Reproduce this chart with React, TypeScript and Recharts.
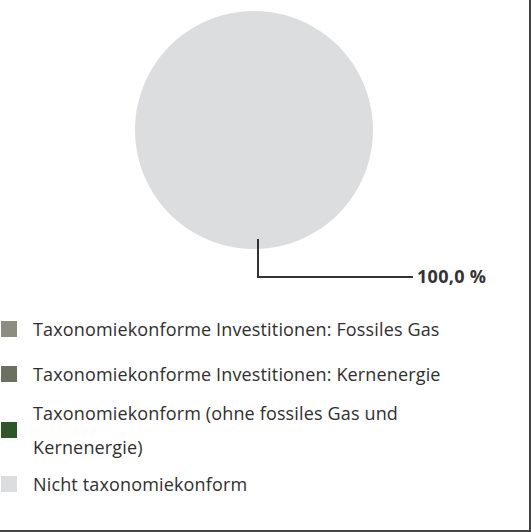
import React from "react";
import { PieChart, Pie, Cell } from "recharts";

const CATEGORIES = [
  "Taxonomiekonforme Investitionen: Fossiles Gas",
  "Taxonomiekonforme Investitionen: Kernenergie",
  "Taxonomiekonform (ohne fossiles Gas und Kernenergie)",
  "Nicht taxonomiekonform",
];
const VALUES = [0, 0, 0, 100];
const COLORS = ["#8c8d80", "#6b7161", "#2e5727", "#dcdddf"];
const LABELS = ["0,0 %", "0,0 %", "0,0 %", "100,0 %"];

const data = CATEGORIES.map((name, i) => ({ name, value: VALUES[i], label: LABELS[i] }));

const FONT = "'Open Sans', 'Noto Sans', sans-serif";
const TEXT = "#2f2f2f";

function renderLabel(props: any) {
  const { cx, cy, outerRadius, index } = props;
  if (VALUES[index] <= 0) return null;
  // leader line from inside the pie down and out to the right
  const x0 = cx + 4;
  const y0 = cy + outerRadius - 10;
  const y1 = cy + outerRadius + 28;
  const x1 = cx + 159;
  return (
    <g key={`lbl-${index}`}>
      <path d={`M${x0},${y0} L${x0},${y1} L${x1},${y1}`} fill="none" stroke="#333" strokeWidth={2} />
      <text x={x1 + 4} y={y1 + 6} fill="#333" fontSize={18} fontWeight={700} fontFamily={FONT} letterSpacing={0.3}>
        {data[index].label}
      </text>
    </g>
  );
}

export default function App() {
  return (
    <div
      style={{
        width: 529,
        height: 530,
        borderRight: "2px solid #444",
        borderBottom: "2px solid #444",
        background: "#fff",
        position: "relative",
        fontFamily: FONT,
      }}
    >
      <style>{`body{margin:0}`}</style>
      <PieChart width={529} height={300} margin={{ top: 0, right: 0, bottom: 0, left: 0 }}>
        <Pie
          data={data}
          dataKey="value"
          nameKey="name"
          cx={254}
          cy={130}
          outerRadius={119}
          startAngle={90}
          endAngle={-270}
          stroke="none"
          label={renderLabel}
          labelLine={false}
          isAnimationActive={false}
        >
          {data.map((d, i) => (
            <Cell key={d.name} fill={COLORS[i]} />
          ))}
        </Pie>
      </PieChart>
      <div style={{ position: "absolute", left: 0, top: 312 }}>
        {data.map((d, i) => (
          <div
            key={d.name}
            style={{
              display: "flex",
              alignItems: "center",
              marginBottom: [11, 5, 3, 0][i],
            }}
          >
            <div style={{ width: 16, height: 16, background: COLORS[i], marginLeft: 1, flexShrink: 0 }} />
            <div
              style={{
                marginLeft: 16,
                width: 440,
                fontSize: 18,
                lineHeight: "34px",
                letterSpacing: 0.15,
                color: TEXT,
              }}
            >
              {d.name}
            </div>
          </div>
        ))}
      </div>
    </div>
  );
}
